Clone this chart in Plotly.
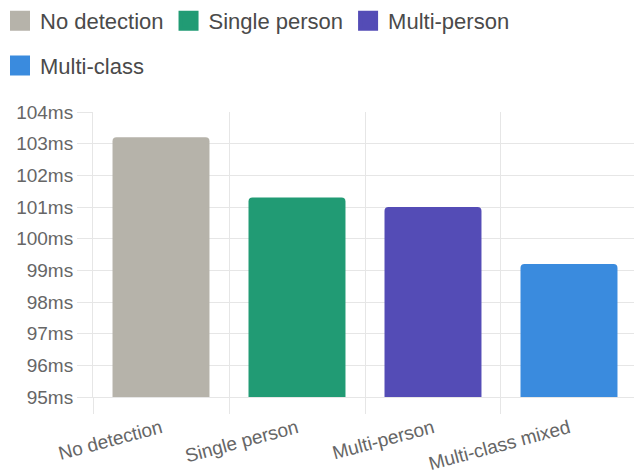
import plotly.graph_objects as go

# Average latency per detection mode
categories = ["No detection", "Single person", "Multi-person", "Multi-class mixed"]
series_names = ["No detection", "Single person", "Multi-person", "Multi-class"]
latency_ms = [103.2, 101.3, 101.0, 99.2]
colors = ["#b6b3aa", "#219b74", "#544cb6", "#3a8bde"]
y_ticks = list(range(95, 105))
y_tick_labels = [f"{v}ms" for v in y_ticks]

FONT = "Liberation Sans, Arial, sans-serif"
GRID = "#e6e6e6"

fig = go.Figure()
for i, (cat, name, val, col) in enumerate(zip(categories, series_names, latency_ms, colors)):
    legend_id = "legend" if i < 3 else "legend2"
    # the bar itself
    fig.add_trace(go.Bar(
        x=[cat], y=[val], name=name, legendgroup=name, showlegend=False,
        marker=dict(color=col, line=dict(width=0)),
        hovertemplate="%{x}: %{y}ms<extra></extra>",
    ))
    # larger square swatch for the legend entry
    fig.add_trace(go.Scatter(
        x=[None], y=[None], mode="markers", name=name, legendgroup=name,
        legend=legend_id, hoverinfo="skip",
        marker=dict(symbol="square", size=16, color=col, line=dict(color=col, width=4)),
    ))

legend_common = dict(
    orientation="h", xref="container", yref="container",
    xanchor="left", yanchor="top",
    font=dict(family=FONT, size=22, color="#4a4a4a"),
    bgcolor="rgba(0,0,0,0)", borderwidth=0,
)

fig.update_layout(
    width=634, height=476,
    margin=dict(l=93, r=0, t=112, b=79),
    paper_bgcolor="white", plot_bgcolor="white",
    barmode="overlay", bargap=0.287, barcornerradius=4,
    font=dict(family=FONT, size=19, color="#666666"),
    legend=dict(x=-0.019, y=1.0, **legend_common),
    legend2=dict(x=-0.019, y=0.906, **legend_common),
    showlegend=True,
)

fig.update_xaxes(
    type="category", categoryorder="array", categoryarray=categories,
    range=[-0.5, 3.478],
    tickson="boundaries", showgrid=True, gridcolor=GRID, gridwidth=1,
    ticks="outside", ticklen=16, tickcolor=GRID, tickwidth=1,
    showline=True, linecolor=GRID, linewidth=1,
    tickangle=-15, ticklabelstandoff=12,
    tickfont=dict(family=FONT, size=19, color="#666666"),
)
fig.update_yaxes(
    range=[95, 104], tickvals=y_ticks, ticktext=y_tick_labels,
    showgrid=True, gridcolor=GRID, gridwidth=1,
    ticks="outside", ticklen=15, tickcolor=GRID, tickwidth=1,
    showline=True, linecolor=GRID, linewidth=1, zeroline=False,
    tickfont=dict(family=FONT, size=19, color="#666666"),
)

fig.write_html("out.html")
